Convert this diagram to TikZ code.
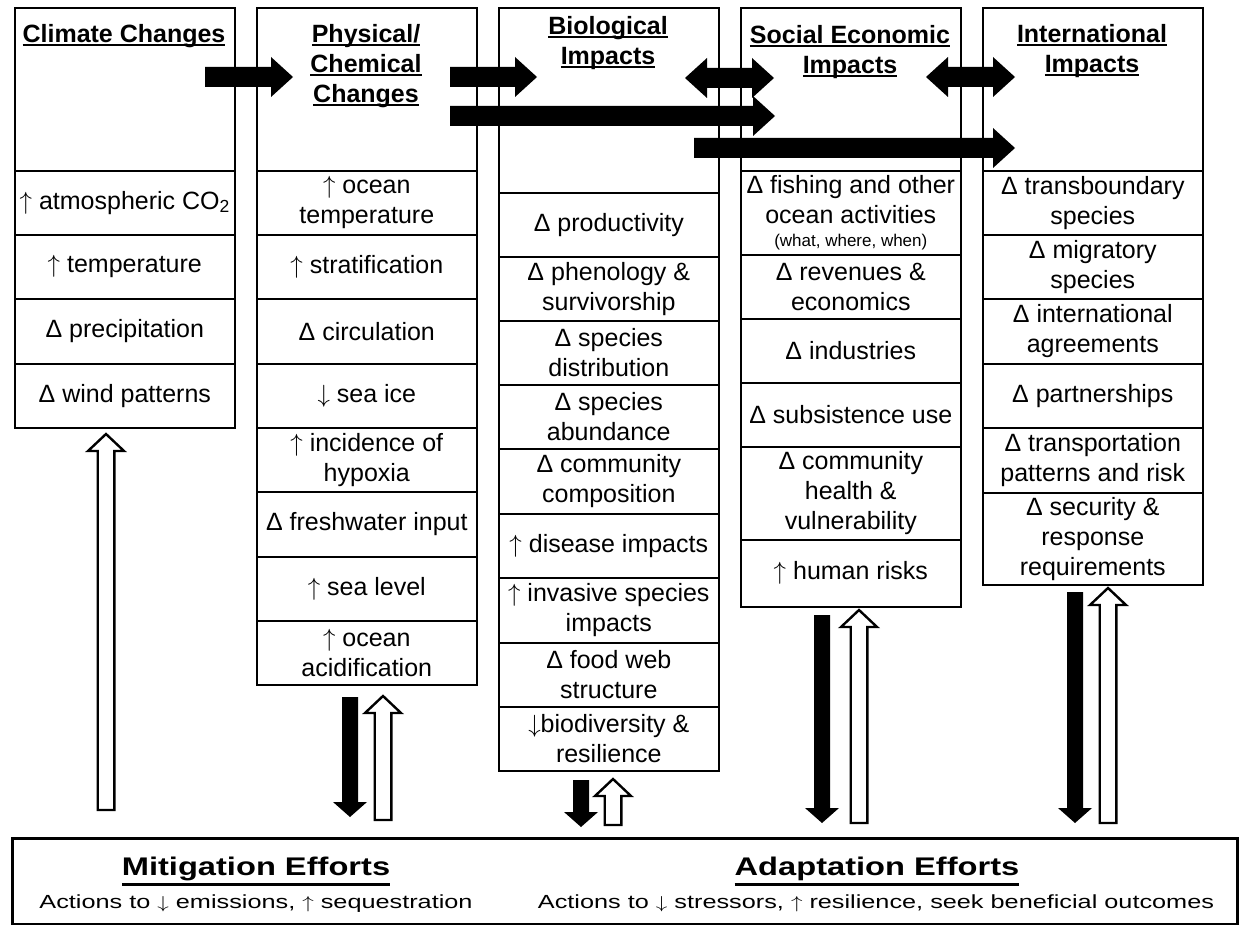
\documentclass[tikz,border=0pt]{standalone}
\usepackage{fontspec}
\usepackage{graphicx}
\setmainfont{Liberation Sans}
\newcommand\UP{\ensuremath{\uparrow}}
\newcommand\DN{\ensuremath{\downarrow}}
\newcommand\myul[1]{\leavevmode{\setbox0\hbox{#1}\rlap{\rule[-4pt]{\wd0}{2pt}}\box0}}
\newcommand\bigul[1]{\leavevmode{\setbox0\hbox{#1}\rlap{\rule[-10.5pt]{\wd0}{2.5pt}}\box0}}
\tikzset{
  cell/.style={draw, line width=1.6pt, text width=218pt, inner xsep=1pt, inner ysep=0pt,
    align=flush center, font=\fontsize{25}{30}\selectfont, anchor=north west, minimum width=220pt},
  headbox/.style={draw, line width=1.6pt, minimum width=220pt, anchor=north west, inner sep=0pt},
  headtext/.style={align=center, inner sep=0pt, font=\fontsize{25}{30}\selectfont\bfseries, anchor=north},
  hollow/.style={draw=black, fill=white, line width=2.4pt, line join=miter},
}
\newcommand\cellbox[5]{\node[cell, minimum height={#4pt-#3pt}] (#1) at (#2,#3) {#5};}
\newcommand\rarr[3]{\fill ({#1},{#3-10}) -- ({#2-22},{#3-10}) -- ({#2-22},{#3-20}) -- ({#2},{#3}) -- ({#2-22},{#3+20}) -- ({#2-22},{#3+10}) -- ({#1},{#3+10}) -- cycle;}
\newcommand\lrarr[3]{\fill ({#1},{#3}) -- ({#1+22},{#3-20}) -- ({#1+22},{#3-10}) -- ({#2-22},{#3-10}) -- ({#2-22},{#3-20}) -- ({#2},{#3}) -- ({#2-22},{#3+20}) -- ({#2-22},{#3+10}) -- ({#1+22},{#3+10}) -- ({#1+22},{#3+20}) -- cycle;}
\newcommand\darr[3]{\fill ({#1-8},{#2}) -- ({#1+8},{#2}) -- ({#1+8},{#3-15}) -- ({#1+17},{#3-15}) -- ({#1},{#3}) -- ({#1-17},{#3-15}) -- ({#1-8},{#3-15}) -- cycle;}
\newcommand\uarr[3]{\filldraw[hollow] ({#1},{#2+1}) -- ({#1+18},{#2+18}) -- ({#1+8.3},{#2+18}) -- ({#1+8.3},{#3}) -- ({#1-8.3},{#3}) -- ({#1-8.3},{#2+18}) -- ({#1-18},{#2+18}) -- cycle;}
\begin{document}
\begin{tikzpicture}[x=1pt,y=-1pt]
\useasboundingbox (0,0) rectangle (1244,925);
% ---- column 1
\node[headbox, minimum height=163pt] (h1) at (14,7) {};
\node[headtext] (t1) at (124,24) {\myul{Climate Changes}};
\cellbox{a1}{14}{170}{234}{\UP{} atmospheric CO\textsubscript{2}}
\cellbox{a2}{14}{234}{298}{\UP{} temperature}
\cellbox{a3}{14}{298}{363}{Δ precipitation}
\cellbox{a4}{14}{363}{427}{Δ wind patterns}
% ---- column 2
\node[headbox, minimum height=163pt] (h2) at (256,7) {};
\node[headtext] (t2) at (366,24) {\myul{Physical/}\\\myul{Chemical}\\\myul{Changes}};
\cellbox{b1}{256}{170}{234}{\UP{} ocean\\temperature}
\cellbox{b2}{256}{234}{298}{\UP{} stratification}
\cellbox{b3}{256}{298}{363}{Δ circulation}
\cellbox{b4}{256}{363}{427}{\DN{} sea ice}
\cellbox{b5}{256}{427}{491}{\UP{} incidence of\\hypoxia}
\cellbox{b6}{256}{491}{556}{Δ freshwater input}
\cellbox{b7}{256}{556}{620}{\UP{} sea level}
\cellbox{b8}{256}{620}{684}{\UP{} ocean\\acidification}
% ---- column 3
\node[headbox, minimum height=185pt] (h3) at (498,7) {};
\node[headtext] (t3) at (608,16) {\myul{Biological}\\\myul{Impacts}};
\cellbox{c1}{498}{192}{256}{Δ productivity}
\cellbox{c2}{498}{256}{320}{Δ phenology \&\\survivorship}
\cellbox{c3}{498}{320}{384}{Δ species\\distribution}
\cellbox{c4}{498}{384}{448}{Δ species\\abundance}
\cellbox{c5}{498}{448}{513}{Δ community\\composition}
\cellbox{c6}{498}{513}{577}{\UP{} disease impacts}
\cellbox{c7}{498}{577}{642}{\UP{} invasive species\\impacts}
\cellbox{c8}{498}{642}{706}{Δ food web\\structure}
\cellbox{c9}{498}{706}{770}{\DN{}biodiversity \&\\resilience}
% ---- column 4
\node[headbox, minimum height=163pt] (h4) at (740,7) {};
\node[headtext] (t4) at (850,25) {\myul{Social Economic}\\\myul{Impacts}};
\cellbox{d1}{740}{170}{254}{Δ fishing and other\\ocean activities\\[-7pt]{\fontsize{17}{20}\selectfont (what, where, when)}}
\cellbox{d2}{740}{254}{318}{Δ revenues \&\\economics}
\cellbox{d3}{740}{318}{382}{Δ industries}
\cellbox{d4}{740}{382}{446}{Δ subsistence use}
\cellbox{d5}{740}{446}{539}{Δ community\\health \&\\vulnerability}
\cellbox{d6}{740}{539}{606}{\UP{} human risks}
% ---- column 5
\node[headbox, minimum height=163pt] (h5) at (982,7) {};
\node[headtext] (t5) at (1092,24) {\myul{International}\\\myul{Impacts}};
\cellbox{e1}{982}{170}{234}{Δ transboundary\\species}
\cellbox{e2}{982}{234}{298}{Δ migratory\\species}
\cellbox{e3}{982}{298}{363}{Δ international\\agreements}
\cellbox{e4}{982}{363}{427}{Δ partnerships}
\cellbox{e5}{982}{427}{492}{Δ transportation\\patterns and risk}
\cellbox{e6}{982}{492}{584}{Δ security \&\\response\\requirements}
% ---- horizontal block arrows
\rarr{205}{293}{77}
\rarr{450}{537}{77}
\rarr{450}{775}{116}
\lrarr{685}{774}{78}
\lrarr{926}{1015}{77}
\rarr{694}{1015}{148}
% ---- vertical arrows
\uarr{106}{433}{810}
\darr{350}{697}{817}
\uarr{383}{695}{820}
\darr{581}{780}{827}
\uarr{613}{778}{825}
\darr{822}{615}{823}
\uarr{859}{609}{823}
\darr{1075}{592}{823}
\uarr{1108}{587}{823}
% ---- bottom box
\node[draw, line width=3pt, minimum width=1225pt, minimum height=86pt, anchor=north west, inner sep=0pt] (eff) at (11,837) {};
\node[anchor=base, inner sep=0pt, font=\fontsize{25.5}{30}\selectfont\bfseries] (mit) at (256,875) {\scalebox{1.28}[1]{\bigul{Mitigation Efforts}}};
\node[anchor=base, inner sep=0pt, font=\fontsize{19}{23}\selectfont] (mitt) at (256,908) {\scalebox{1.33}[1]{Actions to \DN{} emissions, \UP{} sequestration}};
\node[anchor=base, inner sep=0pt, font=\fontsize{25.5}{30}\selectfont\bfseries] (ada) at (877,875) {\scalebox{1.28}[1]{\bigul{Adaptation Efforts}}};
\node[anchor=base, inner sep=0pt, font=\fontsize{19}{23}\selectfont] (adat) at (876,908) {\scalebox{1.33}[1]{Actions to \DN{} stressors, \UP{} resilience, seek beneficial outcomes}};
\end{tikzpicture}
\end{document}
